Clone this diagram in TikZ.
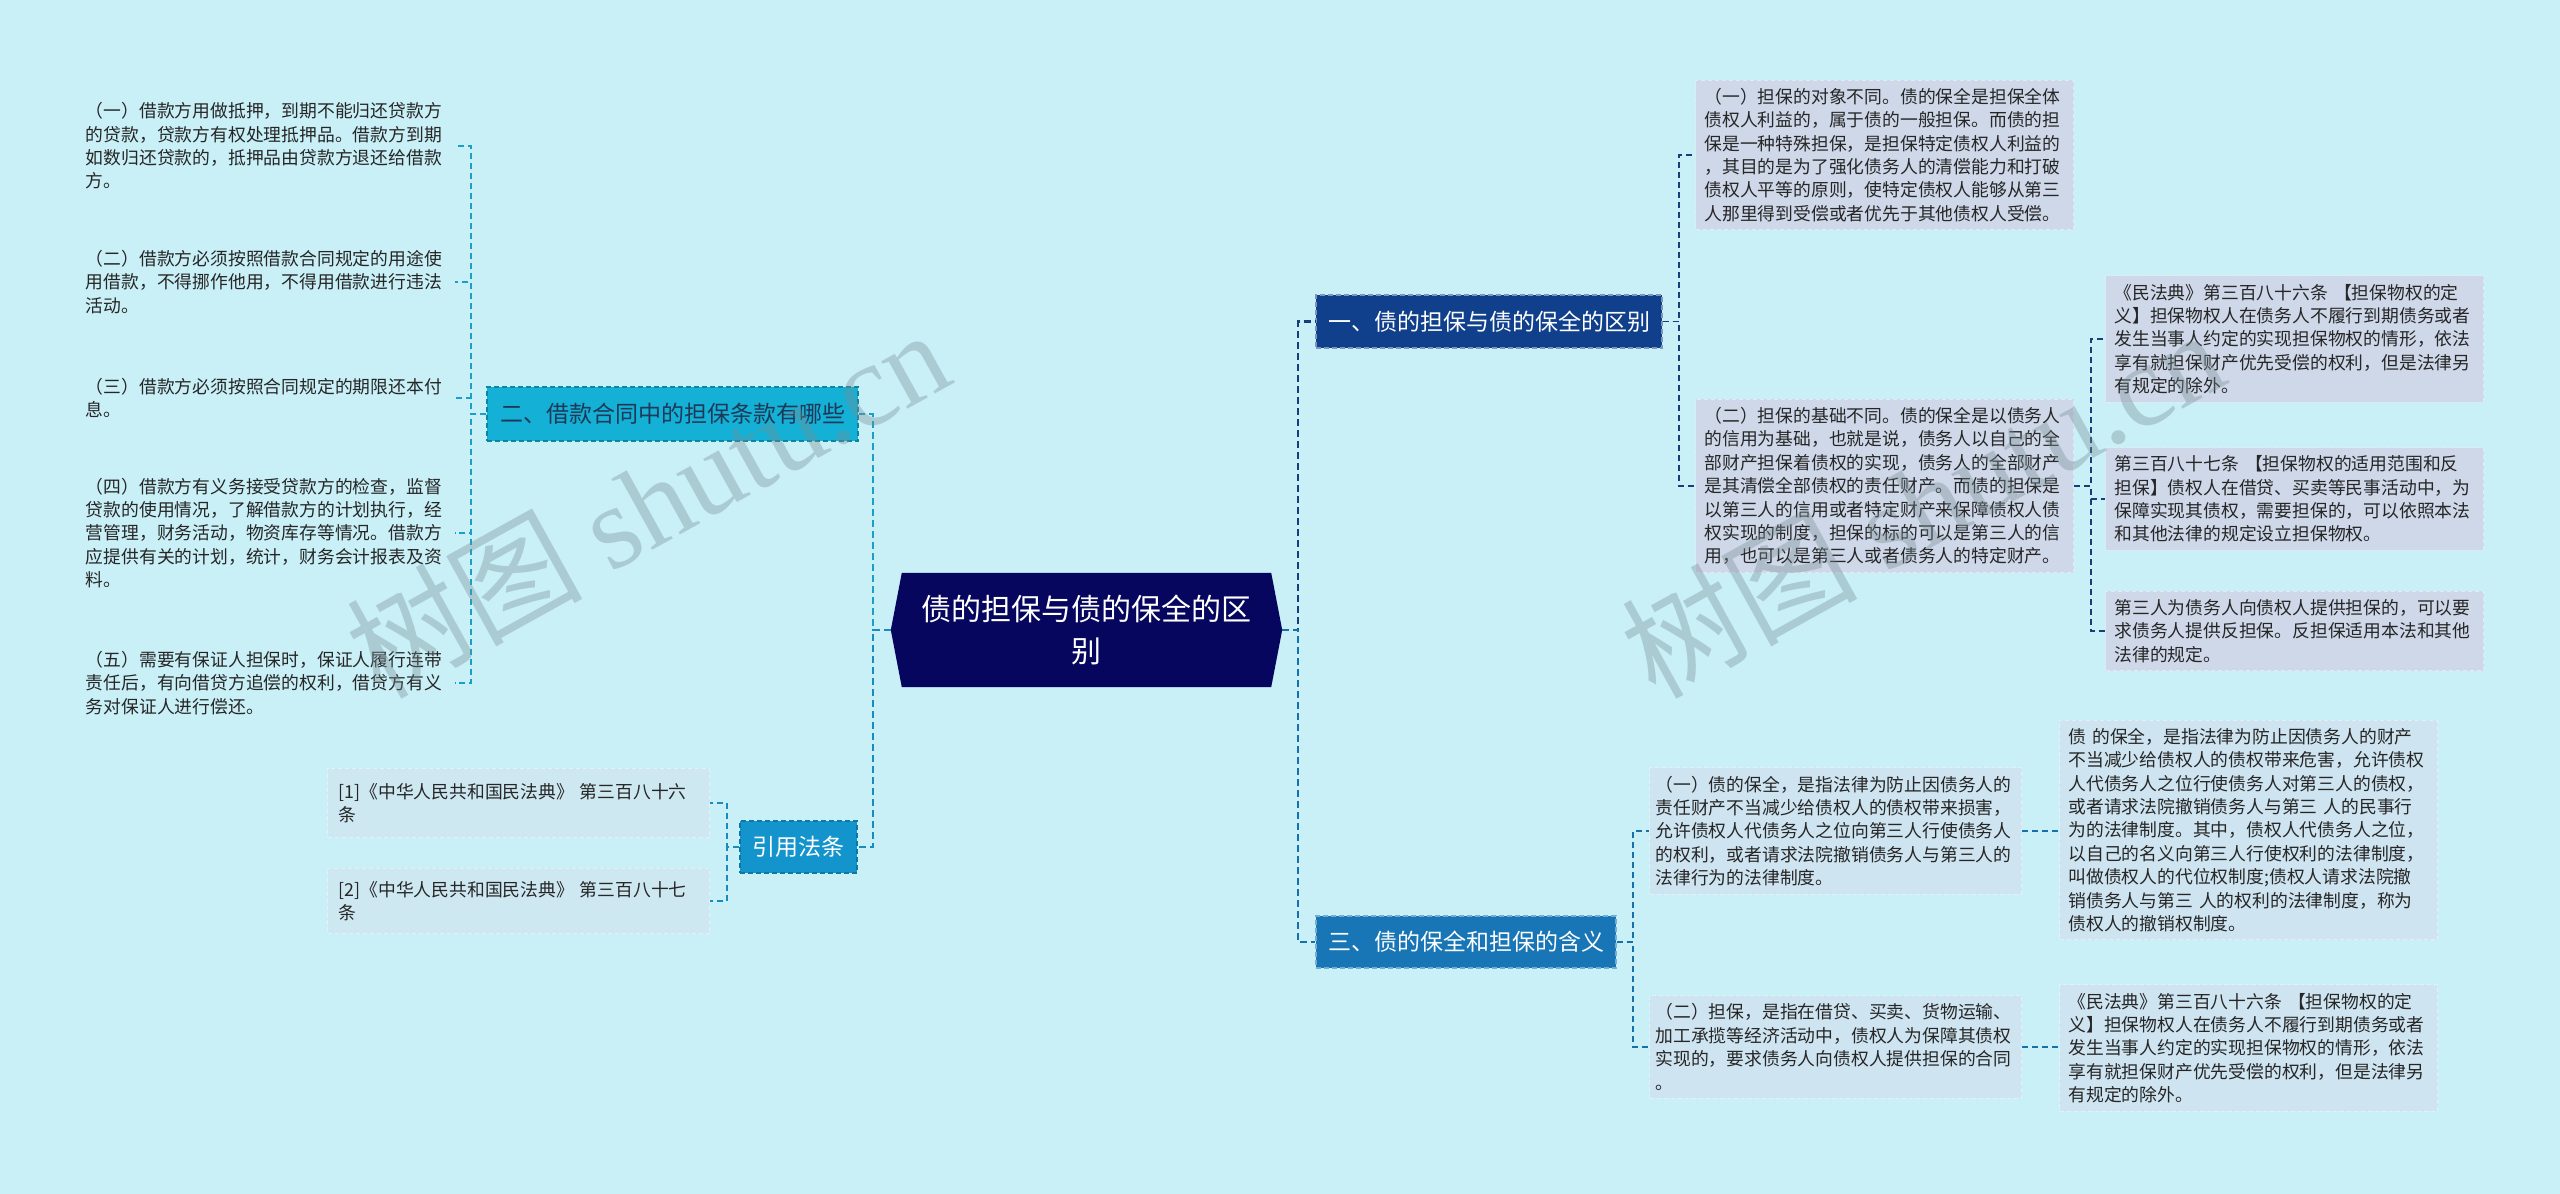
\documentclass[tikz,border=0pt]{standalone}
\usepackage{fontspec}
\setmainfont{Noto Sans CJK SC}
\newfontfamily\wmlatin{Liberation Serif}
\newfontfamily\wmcjk{Noto Sans CJK SC}
\usetikzlibrary{backgrounds}
\definecolor{bgc}{RGB}{201,239,247}
\definecolor{navyc}{RGB}{6,6,94}
\definecolor{onec}{RGB}{16,64,140}
\definecolor{twoc}{RGB}{20,176,214}
\definecolor{twotext}{RGB}{28,58,88}
\definecolor{threec}{RGB}{24,118,182}
\definecolor{citec}{RGB}{20,148,204}
\definecolor{boxA}{RGB}{206,216,233}
\definecolor{boxB}{RGB}{206,228,240}
\definecolor{boxC}{RGB}{206,232,242}
\definecolor{lineOne}{RGB}{22,62,120}
\definecolor{lineThree}{RGB}{24,112,170}
\definecolor{lineTwo}{RGB}{26,160,200}
\definecolor{lineCite}{RGB}{24,140,192}
\definecolor{wmc}{RGB}{120,140,146}
\tikzset{
  leaftext/.style={font=\fontsize{17.8}{23.4}\selectfont, align=left, text width=360pt,
    inner xsep=9pt, inner ysep=8pt, text=black!85},
  leafA/.style={leaftext, fill=boxA, draw=white!45!boxA, dashed, dash pattern=on 4pt off 3pt, line width=1pt},
  leafB/.style={leaftext, fill=boxB, draw=white!45!boxB, dashed, dash pattern=on 4pt off 3pt, line width=1pt},
  leafC/.style={leaftext, fill=boxC, draw=white!45!boxC, dashed, dash pattern=on 4pt off 3pt, line width=1pt},
  branch/.style={font=\fontsize{23}{28}\selectfont, inner sep=0pt, draw, dashed,
    dash pattern=on 5pt off 3pt, line width=1.2pt},
  conn/.style={dash pattern=on 7pt off 4pt, line width=2.4pt},
  lconn/.style={dash pattern=on 6pt off 4pt, line width=1.8pt},
  wmark/.style={rotate=29, text=wmc, opacity=0.36, font=\fontsize{118}{118}\selectfont, inner sep=0pt},
}
\begin{document}
\begin{tikzpicture}[x=1pt,y=-1pt]
\useasboundingbox (0,0) rectangle (2560,1194);

% spine coordinates
\coordinate (sL) at (873,0);
\coordinate (sR) at (1298,0);
\coordinate (sTwo) at (471,0);
\coordinate (sCite) at (727,0);
\coordinate (sOne) at (1679,0);
\coordinate (sB) at (2091,0);
\coordinate (sThree) at (1633,0);

% center
\node[font=\fontsize{30}{42}\selectfont, text=white, align=center, minimum width=391pt,
  minimum height=114pt, inner sep=0pt] (root) at (1086.5,630) {债的担保与债的保全的区\\别};
\begin{scope}[on background layer]
\fill[bgc] (0,0) rectangle (2560,1194);
\fill[navyc] (root.west) -- ([xshift=11pt]root.north west) -- ([xshift=-11pt]root.north east)
  -- (root.east) -- ([xshift=-11pt]root.south east) -- ([xshift=11pt]root.south west) -- cycle;
\end{scope}

% branches
\node[branch, fill=onec, draw=onec!55!white, text=white, minimum width=346pt, minimum height=53pt]
  (one) at (1489,321.5) {一、债的担保与债的保全的区别};
\node[branch, fill=twoc, draw=twoc!75!black, text=twotext, minimum width=371pt, minimum height=54pt]
  (two) at (672.5,414) {二、借款合同中的担保条款有哪些};
\node[branch, fill=threec, draw=threec!60!white, text=white, minimum width=300pt, minimum height=52pt]
  (three) at (1466,942) {三、债的保全和担保的含义};
\node[branch, fill=citec, draw=citec!80!black, text=white, minimum width=117pt, minimum height=52pt]
  (cite) at (798.5,847) {引用法条};

% left leaves
\node[leaftext, anchor=east] (l1) at (455,146) {（一）借款方用做抵押，到期不能归还贷款方\\的贷款，贷款方有权处理抵押品。借款方到期\\如数归还贷款的，抵押品由贷款方退还给借款\\方。};
\node[leaftext, anchor=east] (l2) at (455,282) {（二）借款方必须按照借款合同规定的用途使\\用借款，不得挪作他用，不得用借款进行违法\\活动。};
\node[leaftext, anchor=east] (l3) at (455,398) {（三）借款方必须按照合同规定的期限还本付\\息。};
\node[leaftext, anchor=east] (l4) at (455,533) {（四）借款方有义务接受贷款方的检查，监督\\贷款的使用情况，了解借款方的计划执行，经\\营管理，财务活动，物资库存等情况。借款方\\应提供有关的计划，统计，财务会计报表及资\\料。};
\node[leaftext, anchor=east] (l5) at (455,683) {（五）需要有保证人担保时，保证人履行连带\\责任后，有向借贷方追偿的权利，借贷方有义\\务对保证人进行偿还。};

% citations
\node[leafC, inner xsep=11pt, inner ysep=15pt, anchor=east] (c1) at (710,803) {[1]《中华人民共和国民法典》 第三百八十六\\条};
\node[leafC, inner xsep=11pt, inner ysep=13pt, anchor=east] (c2) at (710,901) {[2]《中华人民共和国民法典》 第三百八十七\\条};

% branch one leaves
\node[leafA, anchor=west] (b1) at (1695,155) {（一）担保的对象不同。债的保全是担保全体\\债权人利益的，属于债的一般担保。而债的担\\保是一种特殊担保，是担保特定债权人利益的\\，其目的是为了强化债务人的清偿能力和打破\\债权人平等的原则，使特定债权人能够从第三\\人那里得到受偿或者优先于其他债权人受偿。};
\node[leafA, anchor=west] (b2) at (1695,486) {（二）担保的基础不同。债的保全是以债务人\\的信用为基础，也就是说，债务人以自己的全\\部财产担保着债权的实现，债务人的全部财产\\是其清偿全部债权的责任财产。而债的担保是\\以第三人的信用或者特定财产来保障债权人债\\权实现的制度，担保的标的可以是第三人的信\\用，也可以是第三人或者债务人的特定财产。};
\node[leafA, anchor=west] (r1) at (2105,339) {《民法典》第三百八十六条 【担保物权的定\\义】担保物权人在债务人不履行到期债务或者\\发生当事人约定的实现担保物权的情形，依法\\享有就担保财产优先受偿的权利，但是法律另\\有规定的除外。};
\node[leafA, anchor=west] (r2) at (2105,499) {第三百八十七条 【担保物权的适用范围和反\\担保】债权人在借贷、买卖等民事活动中，为\\保障实现其债权，需要担保的，可以依照本法\\和其他法律的规定设立担保物权。};
\node[leafA, anchor=west] (r3) at (2105,631) {第三人为债务人向债权人提供担保的，可以要\\求债务人提供反担保。反担保适用本法和其他\\法律的规定。};

% branch three leaves
\node[leafB, inner xsep=6pt, anchor=west] (s1) at (1649,831) {（一）债的保全，是指法律为防止因债务人的\\责任财产不当减少给债权人的债权带来损害，\\允许债权人代债务人之位向第三人行使债务人\\的权利，或者请求法院撤销债务人与第三人的\\法律行为的法律制度。};
\node[leafB, inner xsep=6pt, anchor=west] (s2) at (1649,1047) {（二）担保，是指在借贷、买卖、货物运输、\\加工承揽等经济活动中，债权人为保障其债权\\实现的，要求债务人向债权人提供担保的合同\\。};
\node[leafB, anchor=west] (s1a) at (2059,830) {债 的保全，是指法律为防止因债务人的财产\\不当减少给债权人的债权带来危害，允许债权\\人代债务人之位行使债务人对第三人的债权，\\或者请求法院撤销债务人与第三 人的民事行\\为的法律制度。其中，债权人代债务人之位，\\以自己的名义向第三人行使权利的法律制度，\\叫做债权人的代位权制度;债权人请求法院撤\\销债务人与第三 人的权利的法律制度，称为\\债权人的撤销权制度。};
\node[leafB, anchor=west] (s2a) at (2059,1048) {《民法典》第三百八十六条 【担保物权的定\\义】担保物权人在债务人不履行到期债务或者\\发生当事人约定的实现担保物权的情形，依法\\享有就担保财产优先受偿的权利，但是法律另\\有规定的除外。};

% connectors
\draw[conn, lineOne] (root.east) -- (root.east -| sR) |- (one.west);
\draw[conn, lineThree] (root.east) -- (root.east -| sR) |- (three.west);
\draw[conn, lineTwo] (root.west) -- (root.west -| sL) |- (two.east);
\draw[conn, lineCite] (root.west) -- (root.west -| sL) |- (cite.east);

\foreach \n in {l1,l2,l3,l4,l5}
  \draw[lconn, lineTwo] (two.west) -- (two.west -| sTwo) |- (\n.east);
\foreach \n in {c1,c2}
  \draw[lconn, lineCite] (cite.west) -- (cite.west -| sCite) |- (\n.east);
\foreach \n in {b1,b2}
  \draw[lconn, lineOne] (one.east) -- (one.east -| sOne) |- (\n.west);
\foreach \n in {r1,r2,r3}
  \draw[lconn, lineOne] (b2.east) -- (b2.east -| sB) |- (\n.west);
\foreach \n in {s1,s2}
  \draw[lconn, lineThree] (three.east) -- (three.east -| sThree) |- (\n.west);
\draw[lconn, lineThree] (s1.east) -- (s1a.west |- s1.east);
\draw[lconn, lineThree] (s2.east) -- (s2a.west |- s2.east);

% watermarks
\node[wmark] (wm1) at (647,502) {\wmcjk 树图 \wmlatin shutu.cn};
\node[wmark] (wm2) at (1922,502) {\wmcjk 树图 \wmlatin shutu.cn};
\end{tikzpicture}
\end{document}
